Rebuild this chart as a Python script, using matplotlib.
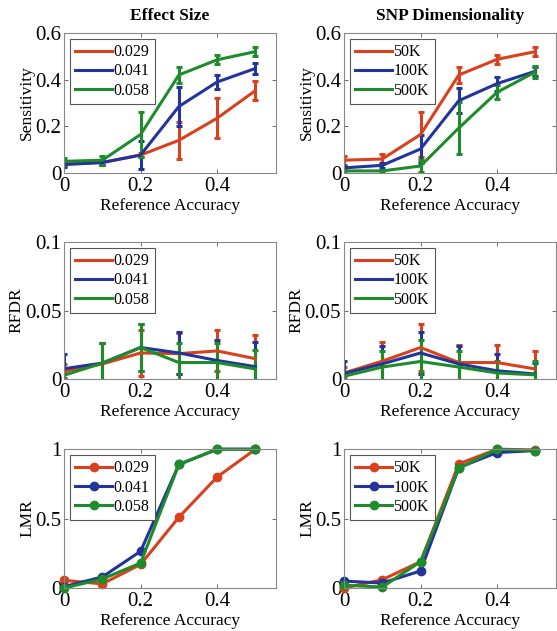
import numpy as np
import matplotlib
matplotlib.use("Agg")
import matplotlib.pyplot as plt
from matplotlib.lines import Line2D

plt.rcParams['font.family'] = ['Liberation Serif', 'DejaVu Serif']

# x values
ref_acc = [0, 0.1, 0.2, 0.3, 0.4, 0.5]

effect_labels = ["0.029", "0.041", "0.058"]
snp_labels = ["50K", "100K", "500K"]
colors = ["#D9411E", "#23349A", "#1E8C2A"]

# Sensitivity (mean, error) - effect size
sens_eff = [[0.040, 0.045, 0.077, 0.140, 0.235, 0.353],
            [0.036, 0.045, 0.077, 0.285, 0.390, 0.448],
            [0.050, 0.055, 0.165, 0.420, 0.485, 0.520]]
sens_eff_err = [[0.010, 0.012, 0.010, 0.080, 0.085, 0.040],
                [0.010, 0.012, 0.060, 0.085, 0.030, 0.025],
                [0.015, 0.020, 0.095, 0.035, 0.020, 0.020]]
# Sensitivity - SNP dimensionality
sens_snp = [[0.055, 0.060, 0.165, 0.420, 0.487, 0.520],
            [0.022, 0.033, 0.103, 0.310, 0.383, 0.436],
            [0.009, 0.009, 0.030, 0.193, 0.346, 0.433]]
sens_snp_err = [[0.020, 0.020, 0.095, 0.035, 0.020, 0.020],
                [0.010, 0.012, 0.060, 0.055, 0.030, 0.020],
                [0.005, 0.006, 0.025, 0.110, 0.030, 0.025]]

# RFDR - effect size
rfdr_eff = [[0.0056, 0.0110, 0.0190, 0.0185, 0.0205, 0.0148],
            [0.0075, 0.0116, 0.0230, 0.0190, 0.0135, 0.0090],
            [0.0027, 0.0116, 0.0230, 0.0120, 0.0120, 0.0073]]
rfdr_eff_err = [[0.005, 0.015, 0.017, 0.015, 0.015, 0.017],
                [0.011, 0.015, 0.017, 0.015, 0.015, 0.018],
                [0.003, 0.015, 0.017, 0.014, 0.014, 0.014]]
# RFDR - SNP dimensionality
rfdr_snp = [[0.0044, 0.0130, 0.0230, 0.0120, 0.0120, 0.0073],
            [0.0040, 0.0110, 0.0190, 0.0110, 0.0060, 0.0036],
            [0.0020, 0.0087, 0.0128, 0.0087, 0.0044, 0.0030]]
rfdr_snp_err = [[0.004, 0.014, 0.017, 0.013, 0.013, 0.013],
                [0.009, 0.013, 0.015, 0.013, 0.012, 0.008],
                [0.003, 0.012, 0.016, 0.012, 0.009, 0.010]]

# LMR
lmr_eff = [[0.055, 0.030, 0.170, 0.510, 0.800, 1.000],
           [0.010, 0.080, 0.265, 0.890, 1.000, 1.000],
           [0.000, 0.065, 0.180, 0.890, 1.000, 1.000]]
lmr_snp = [[0.000, 0.060, 0.190, 0.895, 1.000, 0.995],
           [0.050, 0.036, 0.123, 0.868, 0.976, 0.990],
           [0.020, 0.007, 0.190, 0.863, 1.000, 0.990]]

xticks = [0, 0.2, 0.4]
xticklabels = ["0", "0.2", "0.4"]
sens_ticks = [0, 0.2, 0.4, 0.6]
sens_ticklabels = ["0", "0.2", "0.4", "0.6"]
rfdr_ticks = [0, 0.05, 0.1]
rfdr_ticklabels = ["0", "0.05", "0.1"]
lmr_ticks = [0, 0.5, 1]
lmr_ticklabels = ["0", "0.5", "1"]

fig = plt.figure(figsize=(5.57, 6.31), dpi=100)

lefts = [0.115, 0.6176]
width = 0.380
rows = [(0.7258, 0.222), (0.3994, 0.217), (0.0681, 0.220)]

FS = 12.5
TFS = 15


def style_axes(ax, yticks, yticklabels, ylim, ylabel):
    ax.set_xlim(0, 0.553)
    ax.set_ylim(*ylim)
    ax.set_xticks(xticks)
    ax.set_xticklabels(xticklabels)
    ax.set_yticks(yticks)
    ax.set_yticklabels(yticklabels)
    ax.tick_params(direction="in", top=True, right=True, length=3,
                   width=0.6, labelsize=TFS, color="#555555")
    ax.tick_params(axis="x", pad=3)
    ax.tick_params(axis="y", pad=2)
    for s in ax.spines.values():
        s.set_color("#888888")
        s.set_linewidth(0.8)
    ax.set_xlabel("Reference Accuracy", fontsize=FS, labelpad=1)
    ax.set_ylabel(ylabel, fontsize=FS, labelpad=0)


def legend(ax, labels, marker=None):
    handles = [Line2D([], [], color=c, lw=2.2, marker=marker, ms=6)
               for c in colors]
    leg = ax.legend(handles, labels, loc="upper left", fontsize=11.5,
                    handlelength=2.3, handletextpad=0.1, labelspacing=0.2,
                    borderpad=0.35, borderaxespad=0.35, fancybox=False,
                    framealpha=1)
    leg.get_frame().set_edgecolor("#555555")
    leg.get_frame().set_linewidth(0.8)


panels = [
    (sens_eff, sens_eff_err, effect_labels, 0, 0),
    (sens_snp, sens_snp_err, snp_labels, 1, 0),
    (rfdr_eff, rfdr_eff_err, effect_labels, 0, 1),
    (rfdr_snp, rfdr_snp_err, snp_labels, 1, 1),
]

for vals, errs, labels, col, row in panels:
    b, h = rows[row]
    ax = fig.add_axes([lefts[col], b, width, h])
    for v, e, c in zip(vals, errs, colors):
        ax.errorbar(ref_acc, v, yerr=e, color=c, lw=2.2, elinewidth=2.2,
                    capsize=2, capthick=2.2)
    if row == 0:
        style_axes(ax, sens_ticks, sens_ticklabels, (0, 0.6), "Sensitivity")
        ax.set_title("Effect Size" if col == 0 else "SNP Dimensionality",
                     fontsize=FS, fontweight="bold", pad=9)
    else:
        style_axes(ax, rfdr_ticks, rfdr_ticklabels, (0, 0.1), "RFDR")
    legend(ax, labels)

for col, (vals, labels) in enumerate([(lmr_eff, effect_labels), (lmr_snp, snp_labels)]):
    b, h = rows[2]
    ax = fig.add_axes([lefts[col], b, width, h])
    for v, c in zip(vals, colors):
        ax.plot(ref_acc, v, "-o", color=c, lw=2.2, ms=6, clip_on=False)
    style_axes(ax, lmr_ticks, lmr_ticklabels, (0, 1), "LMR")
    legend(ax, labels, marker="o")

fig.savefig("out.png", dpi=100)
